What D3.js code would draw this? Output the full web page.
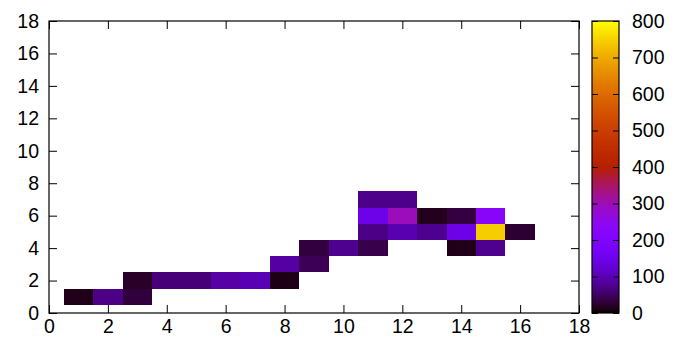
<!DOCTYPE html>
<html>
<head>
<meta charset="utf-8">
<script src="https://cdn.jsdelivr.net/npm/d3@7"></script>
<style>
  html, body { margin: 0; padding: 0; background: #fff; }
  svg { display: block; }
  text { font-family: "Liberation Sans", Arial, Helvetica, sans-serif; font-size: 19.5px; fill: #000; }
</style>
</head>
<body>
<svg id="chart" width="673" height="338"></svg>
<script>
// ---- data ----
const cellX = [1, 2, 3, 3, 4, 5, 6, 7, 8, 8, 9, 9, 10, 11, 14, 15, 11, 12, 13, 14, 15, 16, 11, 12, 13, 14, 15, 11, 12];
const cellY = [1, 1, 1, 2, 2, 2, 2, 2, 2, 3, 3, 4, 4, 4, 4, 4, 5, 5, 5, 5, 5, 5, 6, 6, 6, 6, 6, 7, 7];
const cellValue = [13, 70, 30, 20, 62, 62, 90, 100, 11, 88, 44, 32, 75, 38, 12, 75, 70, 97, 75, 145, 745, 25, 145, 295, 15, 33, 225, 72, 72];
const axisTicks = [0, 2, 4, 6, 8, 10, 12, 14, 16, 18];
const cbTicks = [0, 100, 200, 300, 400, 500, 600, 700, 800];

// ---- layout ----
const svg = d3.select("#chart");
const mLeft = 49, mRight = 579, mTop = 21, mBottom = 313;
const cbLeft = 592, cbRight = 619;

const x = d3.scaleLinear().domain([0, 18]).range([mLeft, mRight]);
const y = d3.scaleLinear().domain([0, 18]).range([mBottom, mTop]);
const cbScale = d3.scaleLinear().domain([0, 800]).range([mBottom, mTop]);

// gnuplot default palette rgbformulae 7,5,15
function palette(t) {
  t = Math.max(0, Math.min(1, t));
  const r = Math.sqrt(t);
  const g = t * t * t;
  const b = Math.max(0, Math.min(1, Math.sin(2 * Math.PI * t)));
  return d3.rgb(Math.round(r * 255), Math.round(g * 255), Math.round(b * 255)).toString();
}
const color = v => palette(v / 800);

// cells
const cells = cellX.map((cx, i) => ({ x: cx, y: cellY[i], v: cellValue[i] }));
svg.append("g").selectAll("rect").data(cells).join("rect")
  .attr("x", d => x(d.x - 0.5))
  .attr("y", d => y(d.y + 0.5))
  .attr("width", d => x(d.x + 0.5) - x(d.x - 0.5))
  .attr("height", d => y(d.y - 0.5) - y(d.y + 0.5))
  .attr("fill", d => color(d.v))
  .attr("shape-rendering", "crispEdges");

// axes with inward ticks, mirrored
const tickLen = 8;
const axB = svg.append("g").attr("transform", `translate(0,${mBottom})`)
  .call(d3.axisBottom(x).tickValues(axisTicks).tickSize(-tickLen).tickPadding(6).tickFormat(d3.format("d")));
const axT = svg.append("g").attr("transform", `translate(0,${mTop})`)
  .call(d3.axisTop(x).tickValues(axisTicks).tickSize(-tickLen).tickFormat(""));
const axL = svg.append("g").attr("transform", `translate(${mLeft},0)`)
  .call(d3.axisLeft(y).tickValues(axisTicks).tickSize(-tickLen).tickPadding(10).tickFormat(d3.format("d")));
const axR = svg.append("g").attr("transform", `translate(${mRight},0)`)
  .call(d3.axisRight(y).tickValues(axisTicks).tickSize(-tickLen).tickFormat(""));
[axB, axT, axL, axR].forEach(a => {
  a.select(".domain").remove();
  a.selectAll("line").attr("stroke", "#000").attr("stroke-width", 1);
  a.selectAll("text").attr("font-size", null).attr("font-family", null);
});
axB.selectAll("text").attr("dy", "0.71em");

// border
svg.append("rect").attr("x", mLeft).attr("y", mTop)
  .attr("width", mRight - mLeft).attr("height", mBottom - mTop)
  .attr("fill", "none").attr("stroke", "#000").attr("stroke-width", 1.2);

// colorbar gradient
const defs = svg.append("defs");
const grad = defs.append("linearGradient").attr("id", "cbgrad")
  .attr("x1", 0).attr("y1", 1).attr("x2", 0).attr("y2", 0);
grad.selectAll("stop").data(d3.range(0, 1.0001, 0.01)).join("stop")
  .attr("offset", d => d)
  .attr("stop-color", d => palette(d));
svg.append("rect").attr("x", cbLeft).attr("y", mTop)
  .attr("width", cbRight - cbLeft).attr("height", mBottom - mTop)
  .attr("fill", "url(#cbgrad)");

const cbTickLen = 6;
const cbAx = svg.append("g").attr("transform", `translate(${cbRight},0)`)
  .call(d3.axisRight(cbScale).tickValues(cbTicks).tickSize(-cbTickLen).tickPadding(13).tickFormat(d3.format("d")));
const cbAxL = svg.append("g").attr("transform", `translate(${cbLeft},0)`)
  .call(d3.axisLeft(cbScale).tickValues(cbTicks).tickSize(-cbTickLen).tickFormat(""));
[cbAx, cbAxL].forEach(a => {
  a.select(".domain").remove();
  a.selectAll("line").attr("stroke", "#000").attr("stroke-width", 1);
  a.selectAll("text").attr("font-size", null).attr("font-family", null);
});
svg.append("rect").attr("x", cbLeft).attr("y", mTop)
  .attr("width", cbRight - cbLeft).attr("height", mBottom - mTop)
  .attr("fill", "none").attr("stroke", "#000").attr("stroke-width", 1.2);
</script>
</body>
</html>
